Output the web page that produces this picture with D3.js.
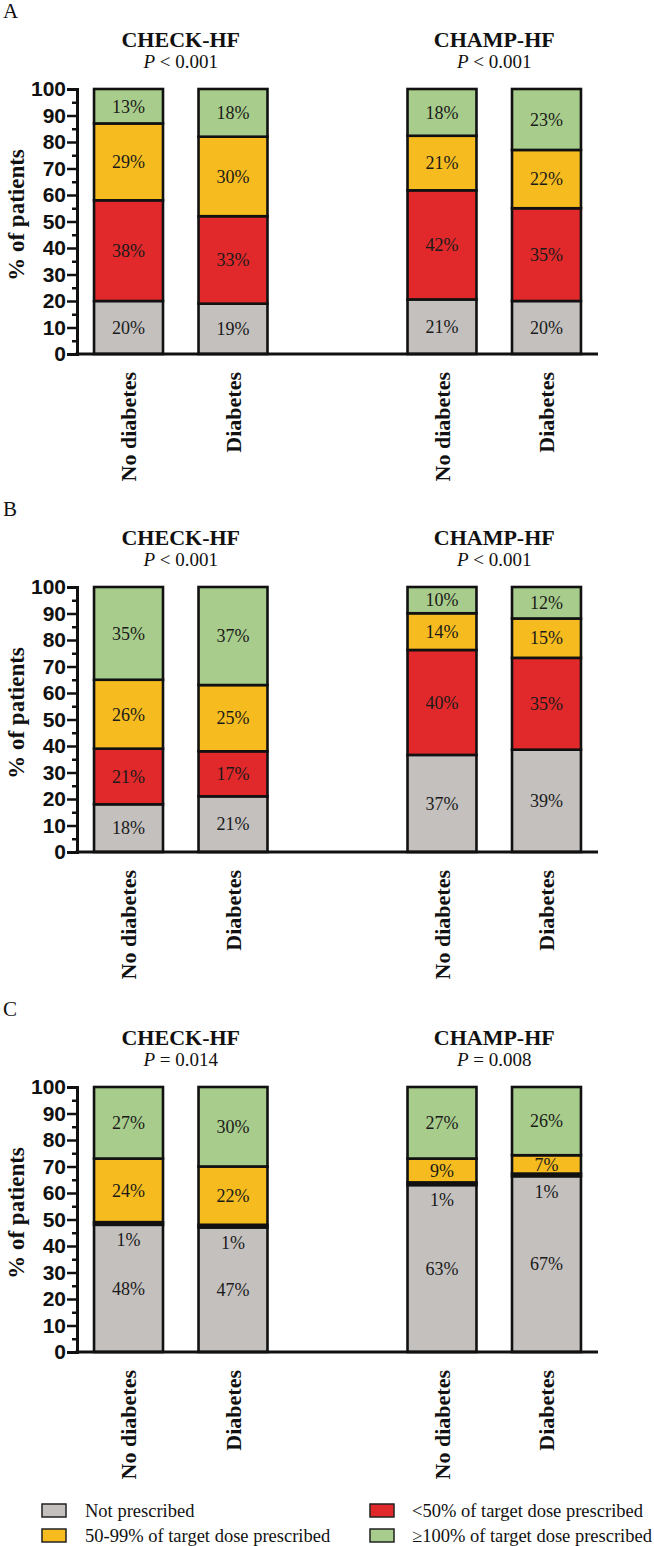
<!DOCTYPE html>
<html>
<head>
<meta charset="utf-8">
<script src="https://cdn.jsdelivr.net/npm/d3@7"></script>
<style>
  html, body { margin: 0; padding: 0; background: #fff; }
  svg { display: block; }
</style>
</head>
<body>
<svg id="chart" width="654" height="1546"></svg>
<script>
// ---------- DATA ----------
const panels = ["A", "B", "C"];
const trials = ["CHECK-HF", "CHAMP-HF"];
const groups = ["No diabetes", "Diabetes"];
const pValues = [
  [["<", "0.001"], ["<", "0.001"]],
  [["<", "0.001"], ["<", "0.001"]],
  [["=", "0.014"], ["=", "0.008"]]
];
const categories = [
  "Not prescribed",
  "<50% of target dose prescribed",
  "50-99% of target dose prescribed",
  "\u2265100% of target dose prescribed"
];
// order of bars in each panel: CHECK-HF No diabetes, CHECK-HF Diabetes, CHAMP-HF No diabetes, CHAMP-HF Diabetes
const notPrescribed = [[20, 19, 21, 20], [18, 21, 37, 39], [48, 47, 63, 67]];
const below50       = [[38, 33, 42, 35], [21, 17, 40, 35], [1, 1, 1, 1]];
const dose50to99    = [[29, 30, 21, 22], [26, 25, 14, 15], [24, 22, 9, 7]];
const atTarget      = [[13, 18, 18, 23], [35, 37, 10, 12], [27, 30, 27, 26]];
const yTicks = [0, 10, 20, 30, 40, 50, 60, 70, 80, 90, 100];
const colors = ["#c3c0be", "#e1292b", "#f6bc1f", "#a8cc8b"];

// ---------- LAYOUT ----------
const serif = "'Liberation Serif', 'Times New Roman', serif";
const sans = "'Liberation Sans', Arial, sans-serif";
const svg = d3.select("#chart");
const panelTops = [89, 587, 1087];
const plotH = 265;
const axisX = 77, axisRight = 598;

const slotKeys = [trials[0] + "|" + groups[0], trials[0] + "|" + groups[1], "gap",
                  trials[1] + "|" + groups[0], trials[1] + "|" + groups[1]];
const x = d3.scaleBand().domain(slotKeys).range([axisX, axisRight])
  .paddingInner(0.34).paddingOuter(0.163);

const color = d3.scaleOrdinal().domain(categories).range(colors);
const stack = d3.stack().keys(categories).offset(d3.stackOffsetExpand);

panels.forEach((letter, pi) => {
  const top = panelTops[pi];
  const bottom = top + plotH;
  const y = d3.scaleLinear().domain([0, 100]).range([bottom, top]);
  const g = svg.append("g");

  // rows
  const rows = [];
  trials.forEach((t, ti) => {
    groups.forEach((gr, gi) => {
      const bi = ti * 2 + gi;
      rows.push({
        key: t + "|" + gr,
        [categories[0]]: notPrescribed[pi][bi],
        [categories[1]]: below50[pi][bi],
        [categories[2]]: dose50to99[pi][bi],
        [categories[3]]: atTarget[pi][bi]
      });
    });
  });
  const series = stack(rows);

  // panel letter
  g.append("text").attr("x", 3).attr("y", top - 71)
    .attr("font-family", serif).attr("font-size", 21).attr("fill", "#111")
    .text(letter);

  // titles
  trials.forEach((t, ti) => {
    const cx = (x(t + "|" + groups[0]) + x(t + "|" + groups[1]) + x.bandwidth()) / 2;
    g.append("text").attr("x", cx).attr("y", top - 42).attr("text-anchor", "middle")
      .attr("font-family", serif).attr("font-weight", "bold").attr("font-size", 22)
      .attr("fill", "#111").text(t);
    const pt = g.append("text").attr("x", cx).attr("y", top - 21).attr("text-anchor", "middle")
      .attr("font-family", serif).attr("font-size", 19).attr("fill", "#111");
    pt.append("tspan").attr("font-style", "italic").text("P");
    pt.append("tspan").text(" " + pValues[pi][ti][0] + " " + pValues[pi][ti][1]);
  });

  // bars
  series.forEach(s => {
    const key = s.key;
    s.forEach(d => {
      const k = d.data.key;
      g.append("rect")
        .attr("x", x(k)).attr("width", x.bandwidth())
        .attr("y", y(d[1] * 100)).attr("height", y(d[0] * 100) - y(d[1] * 100))
        .attr("fill", color(key)).attr("stroke", "#111").attr("stroke-width", 2.6);
    });
  });
  // labels
  series.forEach(s => {
    s.forEach(d => {
      const k = d.data.key;
      const v = d.data[s.key];
      const y0 = y(d[0] * 100), y1 = y(d[1] * 100);
      const ly = v < 3 ? y0 + 15 : (y0 + y1) / 2;
      g.append("text")
        .attr("x", x(k) + x.bandwidth() / 2).attr("y", ly).attr("dy", "0.35em")
        .attr("text-anchor", "middle").attr("font-family", serif).attr("font-size", 18)
        .attr("fill", "#1a1a1a").text(v + "%");
    });
  });

  // y axis
  const yAxis = d3.axisLeft(y).tickValues(yTicks).tickSize(10).tickPadding(1);
  const ya = g.append("g").attr("transform", `translate(${axisX},0)`).call(yAxis);
  ya.select(".domain").attr("stroke", "#111").attr("stroke-width", 3);
  ya.selectAll(".tick line").attr("stroke", "#111").attr("stroke-width", 2.5);
  ya.selectAll(".tick text").attr("font-family", sans).attr("font-weight", "bold")
    .attr("font-size", 21).attr("fill", "#111");
  const minor = d3.axisLeft(y).tickValues(yTicks.slice(1).map(t => t - 5)).tickSize(5).tickFormat("");
  const ym = g.append("g").attr("transform", `translate(${axisX},0)`).call(minor);
  ym.select(".domain").remove();
  ym.selectAll(".tick line").attr("stroke", "#111").attr("stroke-width", 2.5);

  // x axis
  const xAxis = d3.axisBottom(x).tickSize(0).tickFormat("");
  const xa = g.append("g").attr("transform", `translate(0,${bottom})`).call(xAxis);
  xa.select(".domain").attr("stroke", "#111").attr("stroke-width", 3)
    .attr("d", `M${axisX - 1.5},0H${axisRight}`);
  rows.forEach(r => {
    const cx = x(r.key) + x.bandwidth() / 2;
    const label = r.key.split("|")[1];
    g.append("text")
      .attr("transform", `translate(${cx},${bottom + 18}) rotate(-90)`)
      .attr("dy", "0.35em").attr("text-anchor", "end")
      .attr("font-family", serif).attr("font-weight", "bold").attr("font-size", 22)
      .attr("fill", "#111").text(label);
  });

  // y title
  g.append("text")
    .attr("transform", `translate(16,${bottom - 139}) rotate(-90)`)
    .attr("dy", "0.35em").attr("text-anchor", "middle")
    .attr("font-family", serif).attr("font-weight", "bold").attr("font-size", 23)
    .attr("fill", "#111").text("% of patients");
});

// ---------- LEGEND ----------
const legendOrder = [0, 1, 2, 3];
const legendPos = [
  { sx: 42, tx: 85, cy: 1511 },
  { sx: 370, tx: 412, cy: 1511 },
  { sx: 42, tx: 85, cy: 1536 },
  { sx: 370, tx: 412, cy: 1536 }
];
const lg = svg.append("g");
legendOrder.forEach((ci, i) => {
  const p = legendPos[i];
  lg.append("rect").attr("x", p.sx).attr("y", p.cy - 7).attr("width", 24).attr("height", 13)
    .attr("fill", color(categories[ci])).attr("stroke", "#222").attr("stroke-width", 1.5);
  lg.append("text").attr("x", p.tx).attr("y", p.cy).attr("dy", "0.35em")
    .attr("font-family", serif).attr("font-size", 18.5).attr("fill", "#111")
    .text(categories[ci]);
});
</script>
</body>
</html>
